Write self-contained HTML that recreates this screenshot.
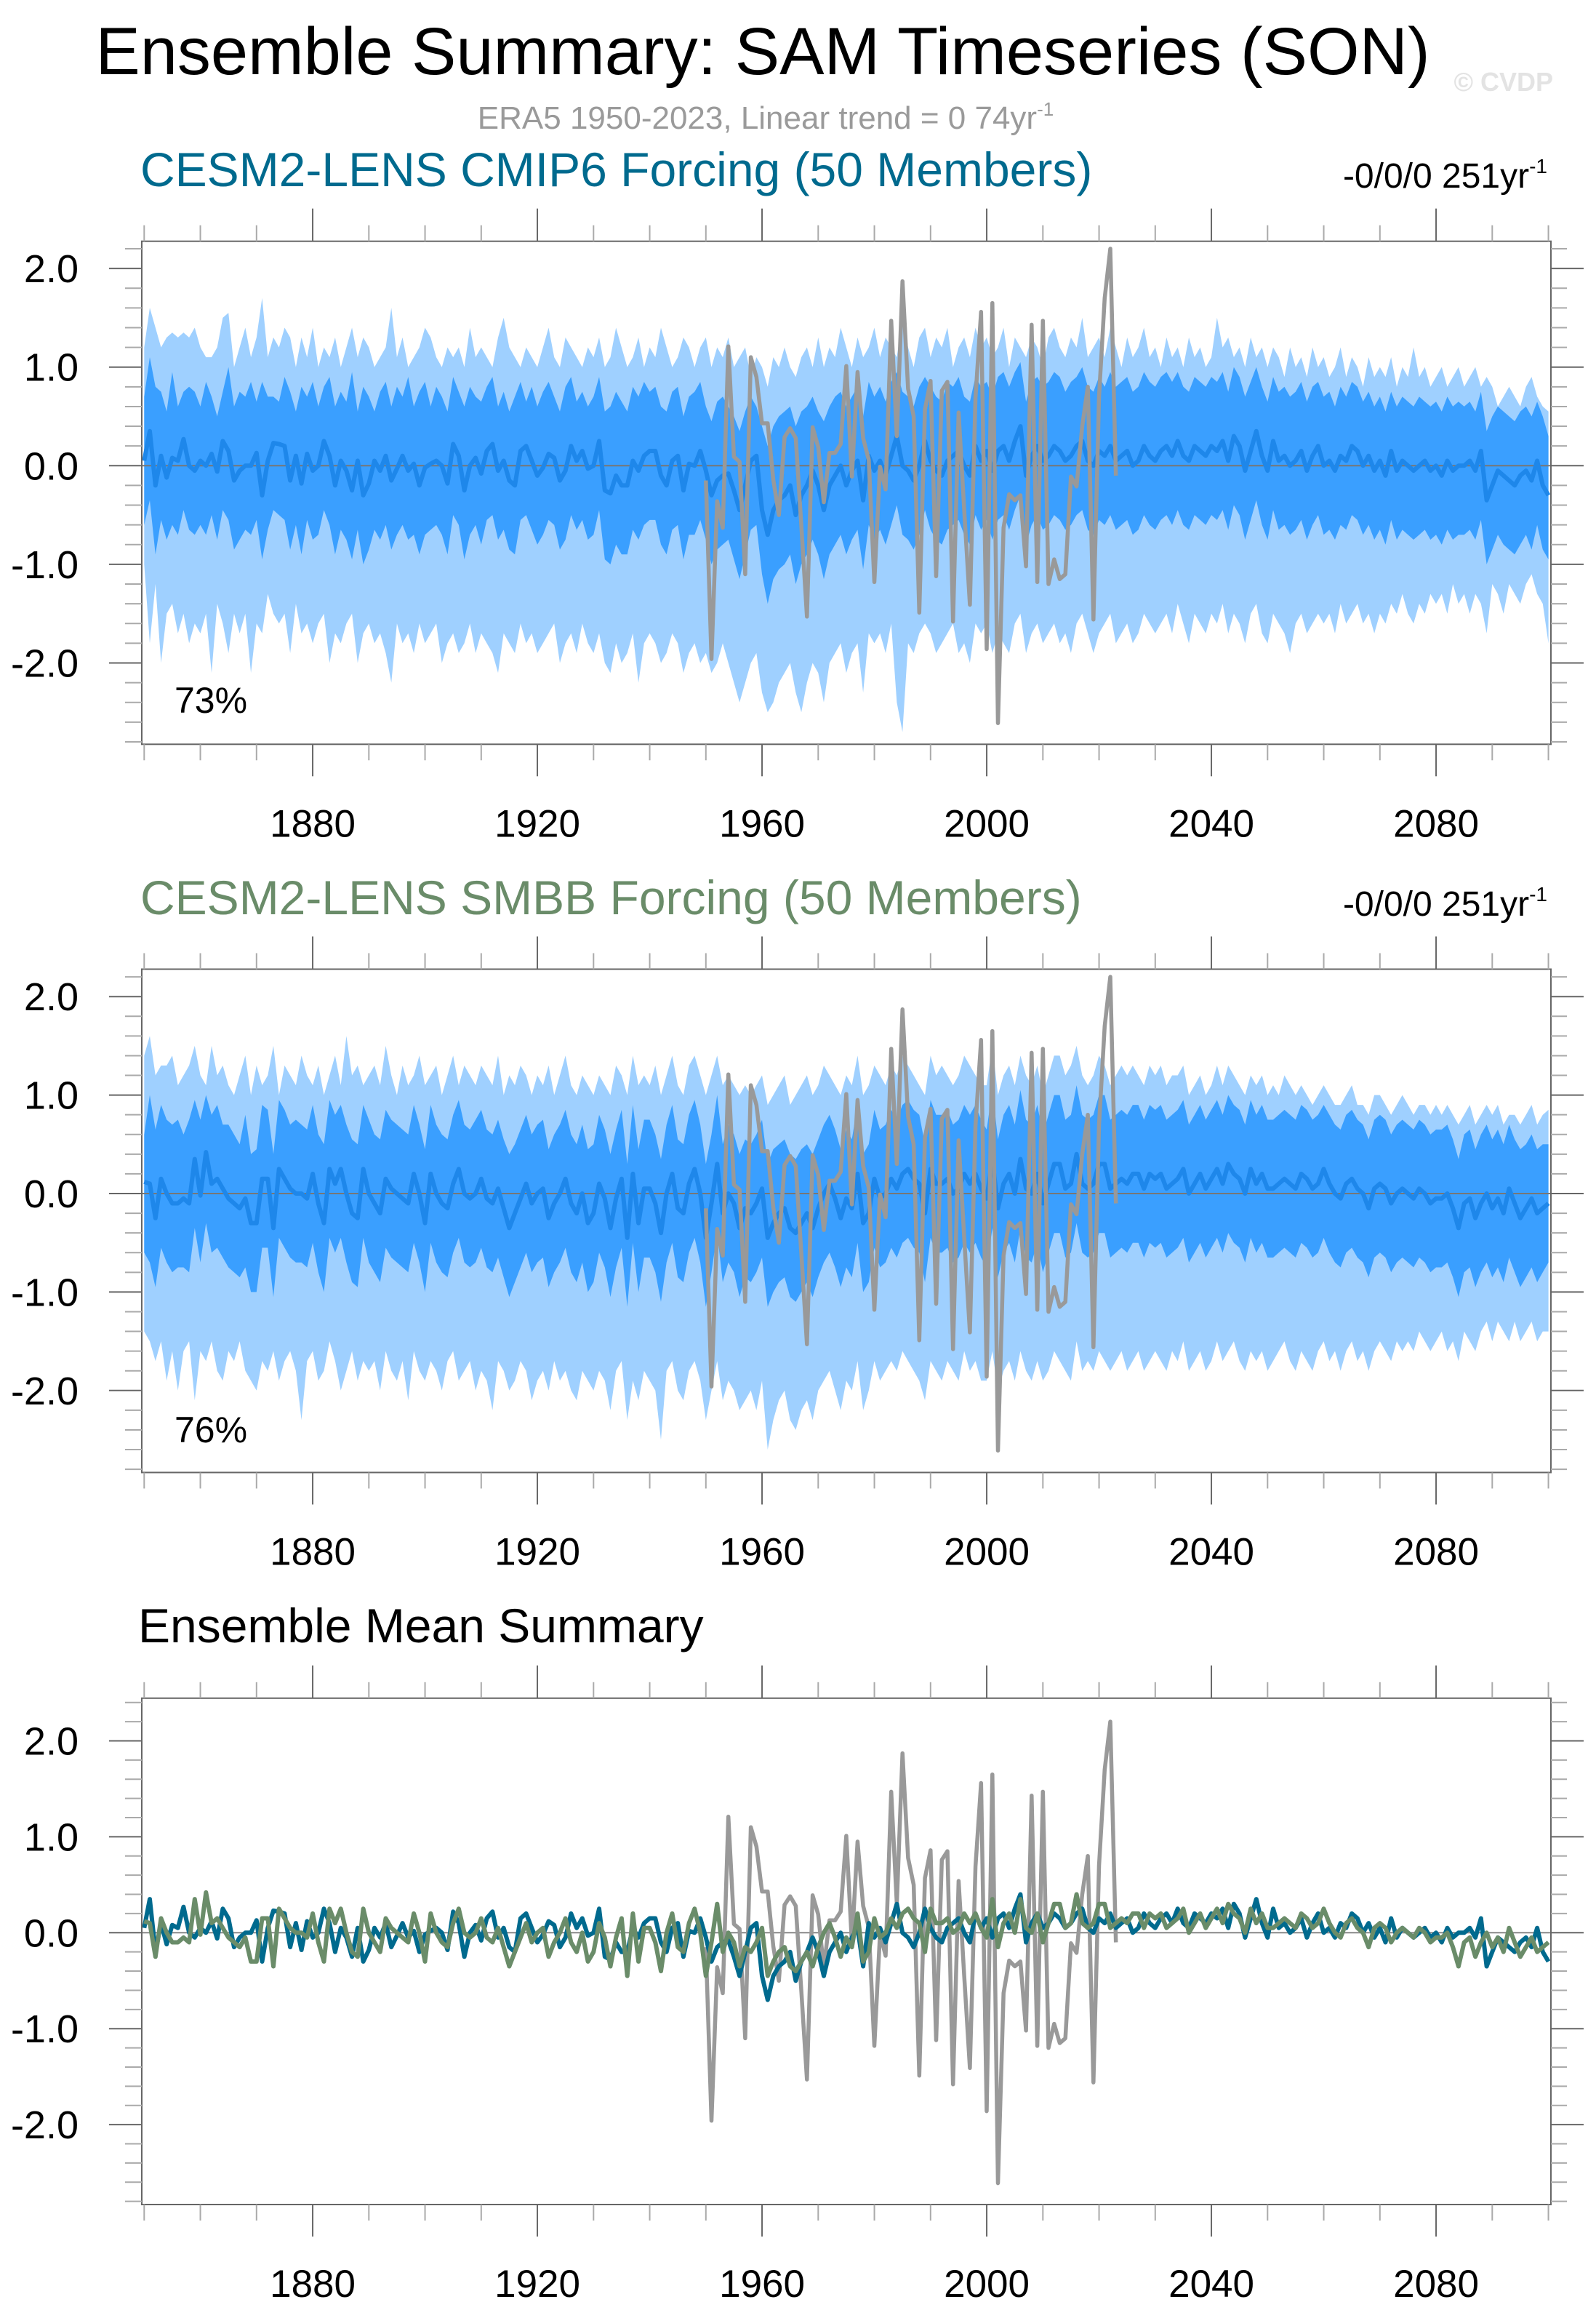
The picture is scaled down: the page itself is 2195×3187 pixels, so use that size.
<!DOCTYPE html>
<html><head><meta charset="utf-8"><title>Ensemble Summary: SAM Timeseries (SON)</title>
<style>
html,body{margin:0;padding:0;background:#fff;}
svg{display:block;font-family:"Liberation Sans",Arial,sans-serif;}
</style></head>
<body>
<svg id="chart" width="2195" height="3187" viewBox="0 0 2195 3187" xmlns="http://www.w3.org/2000/svg">
<text x="1049" y="102" font-size="92" text-anchor="middle" fill="#000">Ensemble Summary: SAM Timeseries (SON)</text>
<text x="2136" y="125" font-size="36" font-weight="bold" text-anchor="end" fill="#e3e3e3">© CVDP</text>
<text x="1053" y="177" font-size="44" text-anchor="middle" fill="#9a9a9a">ERA5 1950-2023, Linear trend = 0 74yr<tspan dy="-18" font-size="26">-1</tspan></text>
<text x="193" y="256" font-size="66" fill="#006a8e">CESM2-LENS CMIP6 Forcing (50 Members)</text>
<text x="2128" y="258" font-size="48" text-anchor="end" fill="#000">-0/0/0 251yr<tspan dy="-20" font-size="28">-1</tspan></text>
<text x="193" y="1257" font-size="66" fill="#6a8c69">CESM2-LENS SMBB Forcing (50 Members)</text>
<text x="2128" y="1259" font-size="48" text-anchor="end" fill="#000">-0/0/0 251yr<tspan dy="-20" font-size="28">-1</tspan></text>
<text x="190" y="2258" font-size="66" fill="#000">Ensemble Mean Summary</text>
<g id="plots"></g>
</svg>
<script>
// ---------- data ----------
const startYear = 1850;
const endYear = 2100;
const obsStartYear = 1950;
const yTickLabels = ["2.0","1.0","0.0","-1.0","-2.0"];
const yTickValues = [2,1,0,-1,-2];
const xTickLabels = ["1880","1920","1960","2000","2040","2080"];
const xTickYears = [1880,1920,1960,2000,2040,2080];
const pctLabels = ["73%","76%"];

const obs = [-0.15,-1.96,-0.36,-0.63,1.21,0.09,0.04,-1.10,1.10,0.90,
0.43,0.43,-0.14,-0.50,0.29,0.38,0.28,-0.61,-1.53,0.39,
0.19,-0.37,0.13,0.13,0.22,1.01,-0.11,0.95,0.28,0.06,
-1.18,-0.01,-0.24,1.47,0.30,1.87,0.78,0.50,-1.49,0.57,
0.86,-1.12,0.76,0.85,-1.58,0.54,-0.45,-1.41,0.69,1.56,
-1.86,1.65,-2.61,-0.63,-0.29,-0.35,-0.30,-1.02,1.43,-1.18,
1.47,-1.20,-0.95,-1.15,-1.10,-0.11,-0.21,0.40,0.80,-1.56,
0.70,1.70,2.20,-0.10];

const meanCMIP6 = [0.05,0.35,-0.2,0.1,-0.12,0.08,0.05,0.27,0.0,-0.05,
0.05,0.0,0.12,-0.06,0.25,0.15,-0.15,-0.05,0.0,0.0,
0.13,-0.3,0.05,0.23,0.22,0.2,-0.15,0.1,-0.18,0.12,
-0.05,0.0,0.25,0.1,-0.2,0.05,-0.05,-0.25,0.05,-0.3,
-0.18,0.05,-0.05,0.1,-0.15,-0.03,0.1,-0.05,0.02,-0.2,
-0.02,0.02,0.05,0.0,-0.18,0.22,0.1,-0.25,0.0,0.08,
-0.08,0.15,0.22,-0.05,0.05,-0.15,-0.2,0.15,0.2,0.05,
-0.1,-0.02,0.12,0.08,-0.15,-0.05,0.2,0.05,0.15,-0.03,
0.0,0.25,-0.25,-0.28,-0.1,-0.2,-0.2,0.05,-0.05,0.1,
0.15,0.15,-0.1,-0.2,0.05,0.1,-0.25,0.02,0.0,0.15,
-0.05,-0.3,-0.15,-0.1,-0.08,-0.25,-0.45,-0.2,0.05,0.1,
-0.45,-0.7,-0.45,-0.35,-0.3,-0.2,-0.5,-0.3,-0.2,-0.05,
-0.2,-0.45,-0.2,-0.1,0.0,-0.2,-0.05,0.05,-0.35,0.1,
-0.05,0.05,-0.1,0.1,0.3,0.0,-0.05,-0.15,0.0,0.25,
0.05,-0.05,-0.1,0.05,0.1,0.15,0.0,-0.1,0.2,0.05,
0.15,-0.05,0.15,0.2,0.05,0.25,0.4,-0.1,0.1,0.2,
0.05,0.1,0.2,0.15,0.05,0.1,0.2,0.25,0.05,0.0,
0.15,0.1,0.2,0.05,0.1,0.15,0.0,0.05,0.2,0.1,
0.05,0.15,0.2,0.1,0.25,0.1,0.05,0.2,0.15,0.1,
0.2,0.15,0.25,0.05,0.3,0.2,-0.05,0.15,0.35,0.1,
-0.05,0.25,0.05,0.1,0.0,0.05,0.15,-0.05,0.1,0.2,
0.0,0.05,-0.05,0.1,0.05,0.2,0.15,0.0,0.1,-0.05,
0.05,-0.1,0.15,-0.05,0.05,0.0,-0.05,0.0,0.05,-0.05,
0.0,-0.1,0.05,-0.05,0.0,0.0,0.05,-0.05,0.15,-0.35,
-0.2,-0.05,-0.1,-0.15,-0.2,-0.1,-0.05,-0.15,0.05,-0.2,
-0.3];

const meanSMBB = [0.12,0.1,-0.25,0.15,0.0,-0.1,-0.1,-0.05,-0.1,0.35,
-0.02,0.42,0.1,0.15,0.05,-0.05,-0.1,-0.15,-0.05,-0.3,
-0.3,0.15,0.15,-0.35,0.25,0.15,0.05,0.0,0.0,-0.05,
0.2,-0.1,-0.3,0.25,0.1,0.25,0.0,-0.2,-0.25,0.25,
0.0,-0.1,-0.2,0.15,0.05,0.0,-0.05,-0.1,0.2,0.0,
-0.3,0.2,0.0,-0.1,-0.15,0.1,0.25,0.0,-0.05,0.0,
0.15,-0.05,-0.1,0.05,-0.15,-0.35,-0.2,-0.05,0.1,-0.1,
0.0,0.05,-0.25,-0.1,0.0,0.15,-0.1,-0.2,0.0,-0.3,
-0.2,0.1,-0.05,-0.35,-0.05,0.15,-0.45,0.2,-0.3,0.05,
0.05,-0.1,-0.4,0.0,0.2,-0.15,-0.2,0.1,0.25,0.0,
-0.45,-0.1,0.3,-0.2,0.0,-0.1,-0.35,-0.15,-0.2,-0.1,
0.05,-0.45,-0.3,-0.2,-0.15,-0.35,-0.4,-0.3,-0.2,-0.35,
-0.15,0.0,0.1,-0.05,-0.25,-0.05,-0.15,0.2,-0.3,-0.2,
0.15,-0.05,0.0,0.15,0.05,0.2,0.25,0.15,0.1,-0.2,
0.25,0.1,0.1,0.15,0.0,0.05,0.2,0.1,0.2,0.05,
-0.05,0.35,-0.15,0.1,0.2,0.0,0.35,0.05,0.0,0.2,
-0.1,0.1,0.3,0.3,0.05,0.1,0.4,0.1,0.05,0.1,
0.3,0.3,0.05,0.1,0.15,0.1,0.2,0.2,0.05,0.2,
0.15,0.2,0.05,0.1,0.15,0.25,0.0,0.1,0.2,0.05,
0.15,0.25,0.1,0.3,0.2,0.15,0.0,0.25,0.1,0.2,
0.05,0.05,0.1,0.15,0.1,0.05,0.2,0.15,0.05,0.1,
0.25,0.1,0.0,-0.05,0.1,0.15,0.05,0.0,-0.15,0.05,
0.1,0.05,-0.1,0.0,0.05,0.0,-0.05,0.05,0.0,-0.1,
-0.05,-0.05,0.0,-0.15,-0.35,-0.1,-0.05,-0.25,-0.1,0.0,
-0.15,-0.05,-0.2,0.05,-0.1,-0.25,-0.15,-0.05,-0.2,-0.15,
-0.1];

const cmip6Upper90 = [1.2,1.6,1.4,1.2,1.3,1.35,1.3,1.35,1.3,1.4,
1.2,1.1,1.1,1.2,1.5,1.55,1.0,1.2,1.4,1.1,
1.3,1.7,1.1,1.3,1.2,1.4,1.3,1.0,1.3,1.1,
1.4,1.0,1.2,1.1,1.3,1.0,1.2,1.4,1.1,1.3,
1.2,1.0,1.1,1.2,1.6,1.1,1.3,1.0,1.1,1.2,
1.4,1.3,1.1,1.0,1.2,1.1,1.2,1.0,1.4,1.1,
1.2,1.1,1.0,1.3,1.5,1.2,1.1,1.0,1.2,1.1,
1.0,1.2,1.4,1.1,1.0,1.3,1.2,1.1,1.0,1.2,
1.1,1.3,1.0,1.1,1.4,1.2,1.0,1.1,1.3,1.0,
1.2,1.1,1.4,1.2,1.0,1.1,1.3,1.2,1.0,1.2,
1.3,1.0,1.2,1.1,1.3,1.0,1.1,1.2,0.9,1.1,
1.0,0.8,1.1,1.0,1.2,1.0,0.9,1.1,1.2,1.0,
1.3,1.0,1.2,1.1,1.4,1.2,1.0,1.3,1.1,1.2,
1.4,1.1,1.3,1.2,1.1,1.5,1.2,1.0,1.3,1.4,
1.1,1.3,1.2,1.4,1.0,1.2,1.3,1.1,1.4,1.2,
1.3,1.1,1.2,1.4,1.0,1.3,1.2,1.1,1.3,1.2,
1.0,1.3,1.4,1.2,1.1,1.3,1.2,1.5,1.1,1.2,
1.3,1.1,1.4,1.2,1.0,1.3,1.1,1.2,1.4,1.1,
1.2,1.0,1.3,1.1,1.2,1.0,1.3,1.1,1.2,1.0,
1.1,1.5,1.2,1.3,1.1,1.2,1.0,1.3,1.1,1.2,
1.0,1.2,1.1,0.9,1.2,1.0,1.1,0.9,1.2,1.0,
1.1,0.9,1.0,1.2,0.9,1.1,1.0,0.8,1.1,0.9,
1.0,0.9,1.1,0.8,1.0,0.9,1.2,0.9,1.0,0.8,
0.9,1.0,0.8,0.9,1.0,0.8,0.9,1.0,0.8,0.9,
0.8,0.6,0.7,0.8,0.7,0.6,0.8,0.9,0.7,0.6,
0.55];
const cmip6Upper = [0.7,1.1,0.8,0.75,0.55,0.95,0.6,0.75,0.8,0.75,
0.6,0.85,0.7,0.5,0.75,1.0,0.6,0.75,0.7,0.85,
0.65,0.85,0.7,0.7,0.65,0.9,0.75,0.55,0.8,0.7,
0.85,0.6,0.8,0.9,0.6,0.75,0.65,0.95,0.55,0.8,
0.7,0.55,0.75,0.85,0.6,0.8,0.7,0.9,0.6,0.75,
0.85,0.6,0.8,0.7,0.55,0.9,0.75,0.6,0.8,0.7,
0.65,0.8,0.9,0.6,0.75,0.55,0.7,0.85,0.65,0.8,
0.6,0.75,0.85,0.7,0.55,0.8,0.9,0.65,0.75,0.6,
0.7,0.9,0.55,0.6,0.75,0.65,0.55,0.8,0.7,0.85,
0.75,0.8,0.6,0.55,0.75,0.8,0.5,0.7,0.75,0.85,
0.6,0.45,0.65,0.7,0.6,0.5,0.35,0.55,0.7,0.6,
0.4,0.2,0.4,0.5,0.55,0.6,0.4,0.55,0.6,0.7,
0.55,0.45,0.6,0.7,0.75,0.6,0.7,0.8,0.5,0.85,
0.7,0.8,0.65,0.85,0.95,0.75,0.7,0.6,0.8,0.9,
0.8,0.7,0.65,0.85,0.8,0.9,0.7,0.65,0.9,0.8,
0.85,0.7,0.9,0.95,0.8,0.95,1.05,0.65,0.85,0.9,
0.8,0.85,0.95,0.9,0.75,0.85,0.9,1.0,0.8,0.75,
0.9,0.8,0.95,0.8,0.85,0.9,0.75,0.8,0.95,0.85,
0.8,0.9,0.95,0.85,0.95,0.8,0.75,0.9,0.85,0.8,
0.9,0.85,0.95,0.75,1.0,0.9,0.7,0.85,1.0,0.8,
0.65,0.9,0.75,0.8,0.7,0.75,0.85,0.65,0.8,0.85,
0.7,0.75,0.6,0.8,0.7,0.85,0.8,0.65,0.75,0.6,
0.7,0.55,0.75,0.6,0.7,0.65,0.6,0.7,0.65,0.6,
0.65,0.55,0.7,0.6,0.65,0.6,0.65,0.55,0.75,0.35,
0.5,0.6,0.55,0.5,0.45,0.55,0.6,0.5,0.65,0.5,
0.3];
const cmip6Lower = [-0.6,-0.35,-0.9,-0.55,-0.75,-0.6,-0.7,-0.45,-0.65,-0.7,
-0.6,-0.7,-0.5,-0.75,-0.45,-0.55,-0.85,-0.75,-0.65,-0.7,
-0.55,-0.95,-0.65,-0.45,-0.5,-0.55,-0.85,-0.6,-0.9,-0.55,
-0.75,-0.7,-0.45,-0.6,-0.9,-0.65,-0.75,-0.95,-0.65,-1.0,
-0.85,-0.65,-0.75,-0.6,-0.85,-0.7,-0.6,-0.75,-0.7,-0.9,
-0.7,-0.65,-0.6,-0.7,-0.9,-0.5,-0.6,-0.95,-0.7,-0.6,
-0.8,-0.55,-0.5,-0.75,-0.65,-0.85,-0.9,-0.55,-0.5,-0.65,
-0.8,-0.7,-0.55,-0.6,-0.85,-0.75,-0.5,-0.65,-0.55,-0.75,
-0.7,-0.45,-0.95,-1.0,-0.8,-0.9,-0.9,-0.65,-0.75,-0.6,
-0.55,-0.55,-0.8,-0.9,-0.65,-0.6,-0.95,-0.7,-0.7,-0.55,
-0.75,-1.0,-0.85,-0.8,-0.75,-0.95,-1.15,-0.9,-0.65,-0.6,
-1.1,-1.4,-1.15,-1.05,-1.0,-0.9,-1.2,-1.0,-0.9,-0.75,
-0.9,-1.15,-0.9,-0.8,-0.7,-0.9,-0.75,-0.65,-1.05,-0.6,
-0.75,-0.65,-0.8,-0.6,-0.4,-0.7,-0.75,-0.85,-0.7,-0.45,
-0.65,-0.75,-0.8,-0.65,-0.6,-0.55,-0.7,-0.8,-0.5,-0.65,
-0.55,-0.75,-0.55,-0.5,-0.65,-0.45,-0.3,-0.8,-0.6,-0.5,
-0.65,-0.6,-0.5,-0.55,-0.65,-0.6,-0.5,-0.45,-0.65,-0.7,
-0.55,-0.6,-0.5,-0.65,-0.6,-0.55,-0.7,-0.65,-0.5,-0.6,
-0.65,-0.55,-0.5,-0.6,-0.45,-0.6,-0.65,-0.5,-0.55,-0.6,
-0.5,-0.55,-0.45,-0.65,-0.4,-0.5,-0.75,-0.55,-0.35,-0.6,
-0.75,-0.45,-0.65,-0.6,-0.7,-0.65,-0.55,-0.75,-0.6,-0.5,
-0.7,-0.65,-0.75,-0.6,-0.65,-0.5,-0.55,-0.7,-0.6,-0.75,
-0.65,-0.8,-0.55,-0.75,-0.65,-0.7,-0.75,-0.7,-0.65,-0.75,
-0.7,-0.8,-0.65,-0.75,-0.7,-0.7,-0.65,-0.75,-0.55,-1.0,
-0.85,-0.7,-0.8,-0.85,-0.9,-0.8,-0.7,-0.85,-0.6,-0.85,
-0.95];
const cmip6Lower90 = [-1.0,-1.8,-1.2,-2.0,-1.5,-1.4,-1.7,-1.5,-1.8,-1.6,
-1.7,-1.5,-2.1,-1.4,-1.6,-1.9,-1.5,-1.7,-1.5,-2.1,
-1.6,-1.7,-1.3,-1.5,-1.6,-1.5,-1.9,-1.4,-1.7,-1.6,
-1.8,-1.6,-1.5,-2.0,-1.7,-1.8,-1.6,-1.5,-2.0,-1.7,
-1.6,-1.8,-1.7,-1.9,-2.2,-1.6,-1.8,-1.7,-1.9,-1.6,
-1.8,-1.7,-1.6,-2.0,-1.8,-1.7,-1.9,-1.8,-1.6,-1.9,
-1.7,-1.8,-1.9,-2.1,-1.7,-1.8,-1.9,-1.6,-1.8,-1.7,
-1.9,-1.8,-1.7,-1.6,-2.0,-1.8,-1.7,-1.9,-1.6,-1.8,
-1.9,-1.7,-2.0,-2.1,-1.8,-2.0,-1.9,-1.7,-2.2,-1.8,
-1.7,-1.8,-2.0,-1.9,-1.7,-1.8,-2.1,-1.9,-1.8,-2.0,
-1.9,-2.1,-2.0,-1.8,-2.0,-2.2,-2.4,-2.2,-2.0,-1.9,
-2.3,-2.5,-2.4,-2.2,-2.1,-2.0,-2.3,-2.5,-2.2,-2.0,
-2.1,-2.4,-2.0,-1.9,-1.8,-2.1,-1.9,-1.8,-2.3,-1.7,
-1.8,-1.7,-1.9,-1.6,-2.4,-2.7,-1.8,-1.9,-1.7,-1.6,
-1.7,-1.9,-1.8,-1.7,-1.6,-1.9,-1.8,-2.0,-1.6,-1.7,
-1.6,-1.9,-1.7,-1.8,-1.9,-1.6,-1.5,-1.9,-1.7,-1.6,
-1.8,-1.7,-1.6,-1.8,-1.7,-1.9,-1.6,-1.5,-1.7,-1.9,
-1.7,-1.6,-1.5,-1.8,-1.7,-1.6,-1.8,-1.7,-1.5,-1.6,
-1.7,-1.6,-1.5,-1.7,-1.4,-1.6,-1.8,-1.5,-1.6,-1.7,
-1.5,-1.6,-1.4,-1.7,-1.5,-1.6,-1.8,-1.5,-1.4,-1.7,
-1.8,-1.5,-1.6,-1.7,-1.9,-1.6,-1.5,-1.7,-1.6,-1.5,
-1.6,-1.5,-1.7,-1.4,-1.6,-1.5,-1.4,-1.6,-1.5,-1.7,
-1.5,-1.6,-1.4,-1.5,-1.3,-1.5,-1.6,-1.4,-1.5,-1.3,
-1.4,-1.3,-1.5,-1.2,-1.4,-1.3,-1.5,-1.3,-1.4,-1.7,
-1.2,-1.3,-1.5,-1.2,-1.3,-1.4,-1.2,-1.1,-1.3,-1.4,
-1.8];

const smbbUpper90 = [1.4,1.6,1.2,1.3,1.3,1.4,1.1,1.2,1.3,1.5,
1.2,1.1,1.5,1.2,1.3,1.1,1.0,1.2,1.4,1.0,
1.3,1.1,1.2,1.5,1.0,1.3,1.2,1.1,1.4,1.2,
1.1,1.3,1.0,1.2,1.4,1.1,1.6,1.2,1.3,1.1,
1.2,1.3,1.1,1.5,1.2,1.0,1.3,1.1,1.2,1.4,
1.1,1.2,1.3,1.0,1.2,1.4,1.1,1.3,1.2,1.1,
1.3,1.2,1.1,1.4,1.0,1.2,1.1,1.3,1.2,1.0,
1.2,1.1,1.3,1.0,1.2,1.4,1.1,1.0,1.2,1.1,
1.0,1.2,1.1,1.0,1.3,1.2,1.0,1.4,1.1,1.2,
1.1,1.3,1.0,1.2,1.4,1.1,1.0,1.3,1.4,1.2,
1.0,1.2,1.4,1.1,1.2,1.1,1.0,1.1,1.0,1.1,
1.2,0.9,1.0,1.1,1.2,0.9,1.0,1.1,1.2,1.0,
1.1,1.3,1.2,1.1,1.0,1.2,1.1,1.4,1.0,1.1,
1.3,1.2,1.1,1.3,1.2,1.4,1.3,1.2,1.1,1.0,
1.4,1.2,1.3,1.2,1.1,1.2,1.4,1.3,1.2,1.1,
1.1,1.5,1.0,1.2,1.3,1.1,1.4,1.2,1.1,1.3,
1.0,1.2,1.4,1.4,1.2,1.3,1.5,1.2,1.1,1.2,
1.4,1.3,1.1,1.2,1.3,1.2,1.3,1.2,1.1,1.3,
1.2,1.3,1.1,1.2,1.2,1.3,1.0,1.1,1.2,1.0,
1.1,1.3,1.1,1.3,1.2,1.1,1.0,1.2,1.1,1.2,
1.0,1.1,1.0,1.2,1.1,1.0,1.1,1.0,0.9,1.0,
1.1,1.0,0.9,0.9,1.0,1.1,0.9,0.9,0.8,1.0,
1.0,0.9,0.8,0.9,1.0,0.9,0.8,0.9,0.9,0.8,
0.9,0.8,0.9,0.8,0.7,0.8,0.9,0.7,0.8,0.9,
0.8,0.9,0.7,0.8,0.8,0.7,0.8,0.9,0.7,0.8,
0.85];
const smbbUpper = [0.6,1.0,0.65,0.9,0.75,0.7,0.75,0.6,0.75,0.95,
0.75,1.0,0.8,0.9,0.7,0.7,0.6,0.5,0.8,0.4,
0.45,0.9,0.85,0.4,0.95,0.85,0.7,0.75,0.7,0.65,
0.9,0.6,0.5,0.95,0.8,0.9,0.7,0.55,0.5,0.9,
0.75,0.6,0.55,0.85,0.75,0.7,0.65,0.6,0.9,0.7,
0.45,0.9,0.7,0.6,0.55,0.8,0.95,0.7,0.65,0.75,
0.85,0.65,0.6,0.75,0.55,0.4,0.5,0.65,0.8,0.6,
0.7,0.75,0.45,0.6,0.7,0.85,0.6,0.5,0.7,0.45,
0.5,0.8,0.65,0.4,0.65,0.85,0.3,0.9,0.45,0.75,
0.75,0.6,0.35,0.7,0.9,0.55,0.5,0.8,0.95,0.7,
0.3,0.6,1.0,0.5,0.7,0.6,0.4,0.55,0.5,0.6,
0.75,0.3,0.45,0.5,0.55,0.4,0.35,0.45,0.5,0.4,
0.55,0.7,0.8,0.65,0.45,0.65,0.55,0.9,0.4,0.5,
0.85,0.65,0.7,0.85,0.75,0.9,0.95,0.85,0.8,0.5,
0.95,0.8,0.8,0.85,0.7,0.75,0.9,0.8,0.9,0.75,
0.65,1.05,0.55,0.8,0.9,0.7,1.05,0.75,0.7,0.9,
0.6,0.8,1.0,1.0,0.75,0.8,1.1,0.8,0.75,0.8,
1.0,1.0,0.75,0.8,0.85,0.8,0.9,0.9,0.75,0.9,
0.85,0.9,0.75,0.8,0.85,0.95,0.7,0.8,0.9,0.75,
0.85,0.95,0.8,1.0,0.9,0.85,0.7,0.95,0.8,0.9,
0.75,0.75,0.8,0.85,0.8,0.75,0.9,0.85,0.75,0.8,
0.9,0.8,0.7,0.65,0.8,0.85,0.75,0.7,0.55,0.75,
0.8,0.75,0.6,0.7,0.75,0.7,0.65,0.75,0.7,0.6,
0.65,0.65,0.7,0.55,0.35,0.6,0.65,0.45,0.6,0.7,
0.55,0.65,0.5,0.7,0.55,0.45,0.5,0.6,0.45,0.5,
0.5];
const smbbLower = [-0.6,-0.7,-0.95,-0.55,-0.7,-0.8,-0.75,-0.75,-0.8,-0.35,
-0.7,-0.3,-0.6,-0.55,-0.65,-0.75,-0.8,-0.85,-0.75,-1.0,
-1.0,-0.55,-0.55,-1.05,-0.45,-0.55,-0.65,-0.7,-0.7,-0.75,
-0.5,-0.8,-1.0,-0.45,-0.6,-0.45,-0.7,-0.9,-0.95,-0.45,
-0.7,-0.8,-0.9,-0.55,-0.65,-0.7,-0.75,-0.8,-0.5,-0.7,
-1.0,-0.5,-0.7,-0.8,-0.85,-0.6,-0.45,-0.7,-0.75,-0.7,
-0.55,-0.75,-0.8,-0.65,-0.85,-1.05,-0.9,-0.75,-0.6,-0.8,
-0.7,-0.65,-0.95,-0.8,-0.7,-0.55,-0.8,-0.9,-0.7,-1.0,
-0.9,-0.6,-0.75,-1.05,-0.75,-0.55,-1.15,-0.5,-1.0,-0.65,
-0.65,-0.8,-1.1,-0.7,-0.5,-0.85,-0.9,-0.6,-0.45,-0.7,
-1.15,-0.8,-0.4,-0.9,-0.7,-0.8,-1.05,-0.85,-0.9,-0.8,
-0.65,-1.15,-1.0,-0.9,-0.85,-1.05,-1.1,-1.0,-0.9,-1.05,
-0.85,-0.7,-0.6,-0.75,-0.95,-0.75,-0.85,-0.5,-1.0,-0.9,
-0.55,-0.75,-0.7,-0.55,-0.65,-0.5,-0.45,-0.55,-0.6,-0.9,
-0.45,-0.6,-0.6,-0.55,-0.7,-0.65,-0.5,-0.6,-0.5,-0.65,
-0.75,-0.35,-0.85,-0.6,-0.5,-0.7,-0.35,-0.65,-0.7,-0.5,
-0.8,-0.6,-0.4,-0.4,-0.65,-0.6,-0.3,-0.6,-0.65,-0.6,
-0.4,-0.4,-0.65,-0.6,-0.55,-0.6,-0.5,-0.5,-0.65,-0.5,
-0.55,-0.5,-0.65,-0.6,-0.55,-0.45,-0.7,-0.6,-0.5,-0.65,
-0.55,-0.45,-0.6,-0.4,-0.5,-0.55,-0.7,-0.45,-0.6,-0.5,
-0.65,-0.65,-0.6,-0.55,-0.6,-0.65,-0.5,-0.55,-0.65,-0.6,
-0.45,-0.6,-0.7,-0.75,-0.6,-0.55,-0.65,-0.7,-0.85,-0.65,
-0.6,-0.65,-0.8,-0.7,-0.65,-0.7,-0.75,-0.65,-0.7,-0.8,
-0.75,-0.75,-0.7,-0.85,-1.05,-0.8,-0.75,-0.95,-0.8,-0.7,
-0.85,-0.75,-0.9,-0.65,-0.8,-0.95,-0.85,-0.75,-0.9,-0.8,
-0.7];
const smbbLower90 = [-1.4,-1.5,-1.7,-1.5,-1.9,-1.6,-2.0,-1.6,-1.5,-2.1,
-1.6,-1.7,-1.5,-1.8,-1.9,-1.6,-1.7,-1.5,-1.8,-1.9,
-2.0,-1.7,-1.8,-1.6,-1.9,-1.7,-1.6,-1.8,-2.3,-1.7,
-1.6,-1.9,-1.8,-1.5,-1.7,-2.0,-1.8,-1.6,-1.9,-1.7,
-1.8,-1.7,-2.0,-1.6,-1.8,-1.9,-1.7,-2.1,-1.6,-1.8,
-1.9,-1.7,-1.8,-2.0,-1.7,-1.6,-1.9,-1.8,-1.7,-2.0,
-1.8,-1.9,-2.2,-1.7,-1.8,-2.0,-1.9,-1.7,-1.8,-2.1,
-1.9,-1.8,-2.0,-1.7,-1.9,-1.8,-2.0,-2.1,-1.8,-1.9,
-2.0,-1.8,-1.9,-2.2,-1.8,-1.7,-2.3,-1.9,-2.1,-1.8,
-1.9,-2.0,-2.5,-1.8,-1.7,-2.0,-2.1,-1.8,-1.7,-1.9,
-2.3,-2.0,-1.7,-2.1,-1.9,-2.0,-2.2,-2.1,-2.0,-2.2,
-1.9,-2.6,-2.3,-2.1,-2.0,-2.3,-2.4,-2.2,-2.1,-2.3,
-2.0,-1.9,-1.8,-2.0,-2.2,-1.9,-2.0,-1.7,-2.2,-2.0,
-1.7,-1.9,-1.8,-1.7,-1.8,-1.6,-1.7,-1.8,-1.9,-2.1,
-1.7,-1.8,-1.9,-1.7,-1.8,-1.9,-1.6,-1.8,-1.7,-1.9,
-1.9,-1.6,-2.0,-1.8,-1.7,-1.9,-1.6,-1.8,-1.9,-1.7,
-1.9,-1.8,-1.6,-1.7,-1.8,-1.9,-1.5,-1.8,-1.7,-1.8,
-1.6,-1.7,-1.8,-1.7,-1.6,-1.8,-1.7,-1.6,-1.8,-1.7,
-1.6,-1.7,-1.8,-1.6,-1.7,-1.5,-1.8,-1.7,-1.6,-1.8,
-1.7,-1.5,-1.7,-1.6,-1.5,-1.7,-1.8,-1.6,-1.7,-1.6,
-1.8,-1.7,-1.6,-1.5,-1.7,-1.8,-1.6,-1.7,-1.8,-1.6,
-1.5,-1.7,-1.6,-1.8,-1.6,-1.5,-1.7,-1.6,-1.8,-1.6,
-1.5,-1.6,-1.7,-1.5,-1.6,-1.5,-1.6,-1.4,-1.5,-1.6,
-1.5,-1.4,-1.6,-1.5,-1.7,-1.4,-1.5,-1.6,-1.4,-1.3,
-1.5,-1.3,-1.4,-1.5,-1.3,-1.5,-1.4,-1.3,-1.5,-1.4,
-1.4];

// ---------- drawing ----------
const NS = "http://www.w3.org/2000/svg";
const root = document.getElementById("plots");
const X0 = 198.3, PX_PER_YEAR = 7.725, BOX_L = 195, BOX_R = 2133;
function xScale(year){ return X0 + (year - startYear) * PX_PER_YEAR; }
function mk(tag, attrs, parent){
  const e = document.createElementNS(NS, tag);
  for (const k in attrs) e.setAttribute(k, attrs[k]);
  (parent || root).appendChild(e);
  return e;
}
const panels = [
  {top:331.7, bottom:1023.3, zero:640.3, unit:135.6, vmin:-2.8, vmax:2.2, key:"cmip6"},
  {top:1332.5, bottom:2024.5, zero:1641.0, unit:135.4, vmin:-2.8, vmax:2.2, key:"smbb"},
  {top:2334.8, bottom:3031, zero:2657.3, unit:131.9, vmin:-2.8, vmax:2.4, key:"mean"}
];
function yScaleFor(p){ return v => p.zero - v * p.unit; }

function linePath(vals, y0Year, ys){
  let d = "";
  vals.forEach((v,i)=>{ d += (i ? "L" : "M") + xScale(y0Year + i).toFixed(1) + "," + ys(v).toFixed(1); });
  return d;
}
function bandPath(upper, lower, ys){
  let d = "";
  upper.forEach((v,i)=>{ d += (i ? "L" : "M") + xScale(startYear + i).toFixed(1) + "," + ys(v).toFixed(1); });
  for (let i = lower.length - 1; i >= 0; i--) d += "L" + xScale(startYear + i).toFixed(1) + "," + ys(lower[i]).toFixed(1);
  return d + "Z";
}

panels.forEach((p, pi) => {
  const ys = yScaleFor(p);
  const g = mk("g", {});
  
  
  const clipId = "clip" + pi;
  const cp = mk("clipPath", {id: clipId}, g);
  mk("rect", {x: BOX_L, y: p.top, width: BOX_R - BOX_L, height: p.bottom - p.top}, cp);
  const plot = mk("g", {"clip-path": "url(#" + clipId + ")"}, g);

  if (pi < 2) {
    const up90 = pi === 0 ? cmip6Upper90 : smbbUpper90;
    const lo90 = pi === 0 ? cmip6Lower90 : smbbLower90;
    const up = pi === 0 ? cmip6Upper : smbbUpper;
    const lo = pi === 0 ? cmip6Lower : smbbLower;
    const mean = pi === 0 ? meanCMIP6 : meanSMBB;
    const b1 = mk("path", {d: bandPath(up90, lo90, ys), fill: "#9fd0ff"}, plot);
    
    
    const b2 = mk("path", {d: bandPath(up, lo, ys), fill: "#3a9fff"}, plot);
    
    
    const z = mk("line", {x1: BOX_L, x2: BOX_R, y1: ys(0), y2: ys(0), stroke: "#777", "stroke-width": 2}, plot);
    
    
    const ml = mk("path", {d: linePath(mean, startYear, ys), fill: "none", stroke: "#1e87ea", "stroke-width": 6, "stroke-linejoin": "round"}, plot);
    
    
    const ol = mk("path", {d: linePath(obs, obsStartYear, ys), fill: "none", stroke: "#999", "stroke-width": 5.5, "stroke-linejoin": "round"}, plot);
    
    
    const pt = mk("text", {x: 240, y: pi === 0 ? 980 : 1983, "font-size": 50, fill: "#000"}, g);
    pt.textContent = pctLabels[pi];
    
    
  } else {
    const z = mk("line", {x1: BOX_L, x2: BOX_R, y1: ys(0), y2: ys(0), stroke: "#888", "stroke-width": 2}, plot);
    
    
    const ol = mk("path", {d: linePath(obs, obsStartYear, ys), fill: "none", stroke: "#999", "stroke-width": 5.5, "stroke-linejoin": "round"}, plot);
    
    
    const l1 = mk("path", {d: linePath(meanCMIP6, startYear, ys), fill: "none", stroke: "#006a8e", "stroke-width": 6, "stroke-linejoin": "round"}, plot);
    
    
    const l2 = mk("path", {d: linePath(meanSMBB, startYear, ys), fill: "none", stroke: "#6a8c69", "stroke-width": 6, "stroke-linejoin": "round"}, plot);
    
    
  }

  const fr = mk("rect", {x: BOX_L, y: p.top, width: BOX_R - BOX_L, height: p.bottom - p.top, fill: "none", stroke: "#666", "stroke-width": 2}, g);
  
  

  const yt = mk("g", {}, g);
  
  
  for (let k = Math.ceil(p.vmin * 5); k <= Math.floor(p.vmax * 5); k++) {
    const v = k / 5, y = ys(v);
    if (y < p.top - 1 || y > p.bottom + 1) continue;
    const major = (k % 5 === 0);
    mk("line", {x1: major ? 150 : 172, x2: BOX_L, y1: y, y2: y, stroke: major ? "#666" : "#aaa", "stroke-width": 2}, yt);
    mk("line", {x1: BOX_R, x2: major ? 2178 : 2155, y1: y, y2: y, stroke: major ? "#666" : "#aaa", "stroke-width": 2}, yt);
  }
  yTickValues.forEach((v, i) => {
    const t = mk("text", {x: 108, y: ys(v) + 19, "font-size": 54, "text-anchor": "end", fill: "#000"}, yt);
    t.textContent = yTickLabels[i];
    
    
  });

  const xt = mk("g", {}, g);
  
  
  for (let yr = startYear; yr <= endYear; yr += 10) {
    const x = xScale(yr), major = xTickYears.indexOf(yr) >= 0;
    mk("line", {x1: x, x2: x, y1: p.top, y2: p.top - (major ? 45 : 22), stroke: major ? "#666" : "#aaa", "stroke-width": 2}, xt);
    mk("line", {x1: x, x2: x, y1: p.bottom, y2: p.bottom + (major ? 44 : 22), stroke: major ? "#666" : "#aaa", "stroke-width": 2}, xt);
  }
  xTickYears.forEach((yr, i) => {
    const t = mk("text", {x: xScale(yr), y: p.bottom + 127, "font-size": 53, "text-anchor": "middle", fill: "#000"}, xt);
    t.textContent = xTickLabels[i];
    
    
  });
});
</script>
</body></html>
